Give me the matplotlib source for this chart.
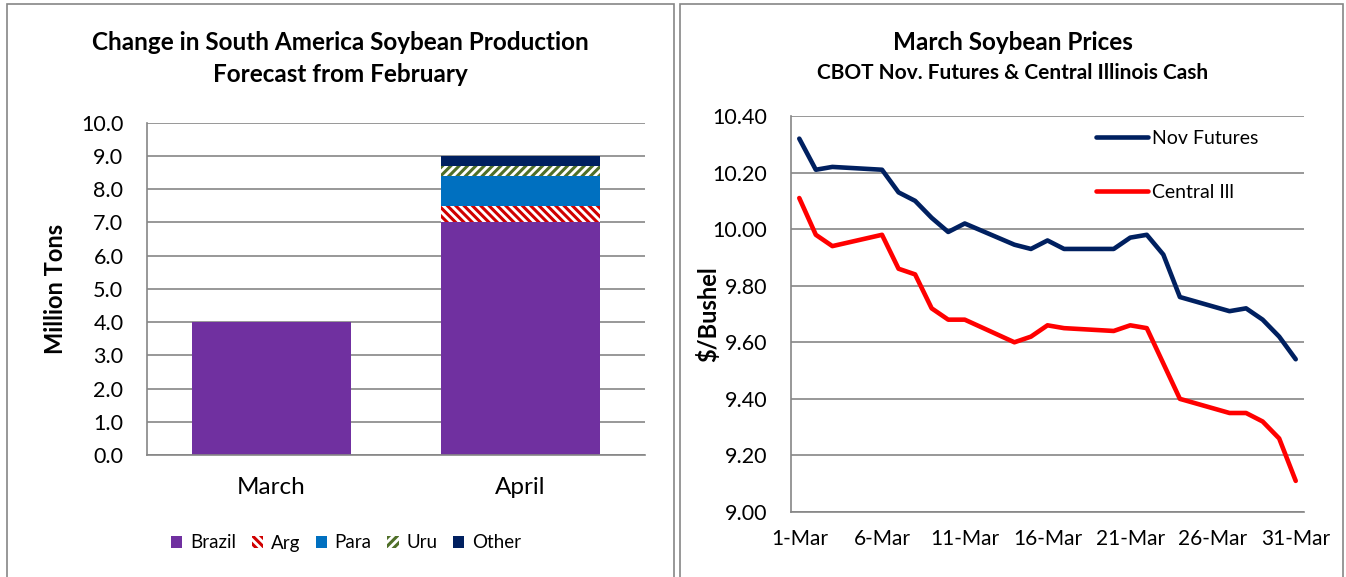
import matplotlib
matplotlib.use("Agg")
import matplotlib.pyplot as plt
from matplotlib.patches import Patch, Rectangle
from matplotlib.ticker import FormatStrFormatter

plt.rcParams["font.family"] = ["Lato", "DejaVu Sans"]
plt.rcParams["hatch.linewidth"] = 2.2

# left chart: change in production forecast (million tons)
months = ["March", "April"]
regions = ["Brazil", "Arg", "Para", "Uru", "Other"]
brazil = [4.0, 7.0]
arg = [0.0, 0.5]
para = [0.0, 0.9]
uru = [0.0, 0.3]
other = [0.0, 0.3]

# right chart: daily prices ($/bushel)
days = [1, 2, 3, 6, 7, 8, 9, 10, 11, 14, 15, 16, 17, 20, 21, 22, 23, 24, 27, 28, 29, 30, 31]
nov_futures = [10.32, 10.21, 10.22, 10.21, 10.13, 10.10, 10.04, 9.99, 10.02, 9.945, 9.93, 9.96,
               9.93, 9.93, 9.97, 9.98, 9.91, 9.76, 9.71, 9.72, 9.68, 9.62, 9.54]
central_ill = [10.11, 9.98, 9.94, 9.98, 9.86, 9.84, 9.72, 9.68, 9.68, 9.60, 9.62, 9.66,
               9.65, 9.64, 9.66, 9.65, 9.525, 9.40, 9.35, 9.35, 9.32, 9.26, 9.11]
day_ticks = [1, 6, 11, 16, 21, 26, 31]
day_labels = [f"{d}-Mar" for d in day_ticks]

GRID = "#868686"
W, H = 1346, 577

fig = plt.figure(figsize=(W / 100, H / 100), dpi=100)


def fx(px):
    return px / W


def fy(py):
    return 1 - py / H


# panel frames
for x0, x1 in [(7, 674), (680, 1343)]:
    fig.add_artist(Rectangle((fx(x0), fy(H + 10)), fx(x1 - x0), (H + 6) / H,
                             transform=fig.transFigure, fill=False,
                             edgecolor=GRID, linewidth=1.2))


def style_axes(ax):
    for side in ("top", "right"):
        ax.spines[side].set_visible(False)
    for side in ("left", "bottom"):
        ax.spines[side].set_color(GRID)
        ax.spines[side].set_linewidth(1.2)
    ax.grid(axis="y", color=GRID, linewidth=1.2)
    ax.set_axisbelow(True)
    ax.tick_params(length=0, labelsize=15.5, colors="black")


# ---- left: stacked bars ----
ax1 = fig.add_axes([fx(147), fy(455), fx(645 - 147), (455 - 122.7) / H])
x = range(len(months))
colors = {"Brazil": "#7030A0", "Arg": "#D00000", "Para": "#0070C0",
          "Uru": "#4F6F28", "Other": "#002060"}
hatches = {"Arg": "\\\\\\\\", "Uru": "////"}
series = [brazil, arg, para, uru, other]
bottom = [0.0, 0.0]
handles = []
for name, vals in zip(regions, series):
    if name in hatches:
        ax1.bar(x, vals, 0.64, bottom=bottom, facecolor="white",
                edgecolor=colors[name], hatch=hatches[name], linewidth=0)
        handles.append(Patch(facecolor="white", edgecolor=colors[name],
                             hatch=hatches[name], linewidth=0, label=name))
    else:
        ax1.bar(x, vals, 0.64, bottom=bottom, color=colors[name], linewidth=0)
        handles.append(Patch(facecolor=colors[name], label=name))
    bottom = [b + v for b, v in zip(bottom, vals)]

ax1.set_xlim(-0.5, 1.5)
ax1.set_ylim(0, 10)
ax1.set_yticks(range(0, 11))
ax1.yaxis.set_major_formatter(FormatStrFormatter("%.1f"))
ax1.set_xticks(list(x))
ax1.set_xticklabels(months)
style_axes(ax1)
ax1.tick_params(axis="y", pad=17)
ax1.tick_params(axis="x", pad=16, labelsize=17.5)
ax1.set_ylabel("Million Tons", fontsize=17, fontweight="bold")
ax1.yaxis.set_label_coords(-0.161, 0.5)

fig.legend(handles=handles, loc="center", bbox_to_anchor=(fx(346), fy(543)),
           ncol=5, frameon=False, fontsize=13.5, handlelength=0.6, handleheight=0.6,
           handletextpad=0.4, columnspacing=0.85)

fig.text(fx(340), fy(42), "Change in South America Soybean Production",
         ha="center", va="center", fontsize=17.5, fontweight="bold")
fig.text(fx(340), fy(74), "Forecast from February",
         ha="center", va="center", fontsize=17.5, fontweight="bold")

# ---- right: price lines ----
ax2 = fig.add_axes([fx(791), fy(512), fx(1304 - 791), (512 - 116) / H])
ax2.plot(days, nov_futures, color="#002060", linewidth=3.3, label="Nov Futures",
         solid_capstyle="round", solid_joinstyle="round")
ax2.plot(days, central_ill, color="#FF0000", linewidth=3.3, label="Central Ill",
         solid_capstyle="round", solid_joinstyle="round")
ax2.set_xlim(0.5, 31.5)
ax2.set_ylim(9.0, 10.4)
ax2.set_yticks([9.0 + 0.2 * i for i in range(8)])
ax2.yaxis.set_major_formatter(FormatStrFormatter("%.2f"))
ax2.set_xticks(day_ticks)
ax2.set_xticklabels(day_labels)
style_axes(ax2)
ax2.tick_params(axis="y", pad=17)
ax2.tick_params(axis="x", pad=12, labelsize=15)
ax2.set_ylabel("$/Bushel", fontsize=17, fontweight="bold")
ax2.yaxis.set_label_coords(-0.138, 0.5)
ax2.legend(loc="upper left", bbox_to_anchor=(0.575, 0.99), frameon=False,
           fontsize=14, handlelength=2.7, handletextpad=0.2, labelspacing=1.9,
           borderpad=0)

fig.text(fx(1013), fy(42), "March Soybean Prices",
         ha="center", va="center", fontsize=17.5, fontweight="bold")
fig.text(fx(1013), fy(73), "CBOT Nov. Futures & Central Illinois Cash",
         ha="center", va="center", fontsize=15, fontweight="bold")

fig.savefig("out.png", dpi=100)
